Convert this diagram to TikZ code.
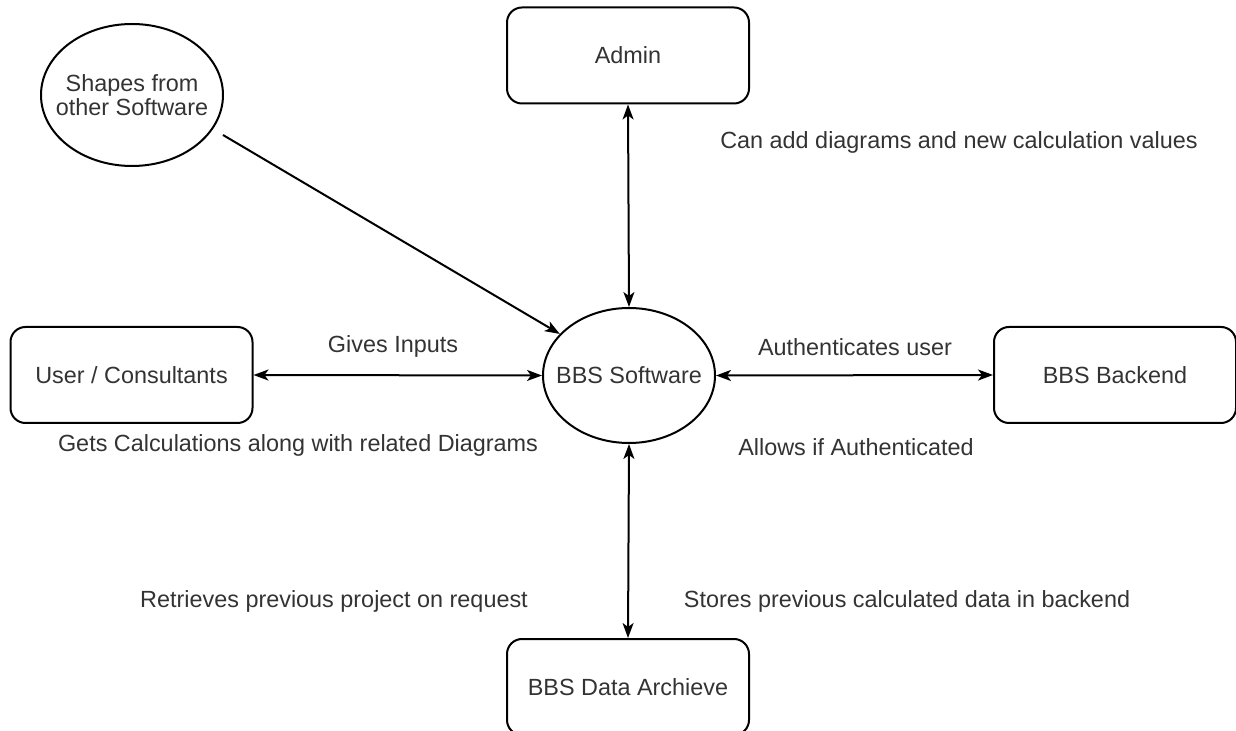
\documentclass[tikz,border=0pt]{standalone}
\usepackage{fontspec}
\setmainfont{Liberation Sans}
\usetikzlibrary{shapes.geometric,arrows.meta}
\definecolor{txt}{HTML}{333333}
\tikzset{
  box/.style={draw=black, line width=1pt, rounded corners=7.5pt, minimum width=121pt, minimum height=48pt, inner sep=0pt, text=txt, font=\fontsize{11.7}{14}\selectfont},
  oval/.style={draw=black, line width=1pt, ellipse, inner sep=0pt, text=txt, font=\fontsize{11.7}{12}\selectfont},
  lbl/.style={text=txt, inner sep=0pt, font=\fontsize{11.7}{14}\selectfont},
  conn/.style={line width=1pt, draw=black},
  arr/.tip={Stealth[length=7.5pt,width=5.5pt,inset=2pt]}
}
\begin{document}
\begin{tikzpicture}[x=0.5pt,y=-0.5pt]
\useasboundingbox (0,0) rectangle (1236,731);
\node[oval, minimum width=91pt, minimum height=71pt] (shapes) at (132,95) {\makebox[0pt]{\raisebox{-4.9pt}[0pt][0pt]{\begin{tabular}{@{}c@{}}Shapes from\\other Software\end{tabular}}}};
\node[box] (admin) at (628,55.5) {Admin};
\node[oval, minimum width=86pt, minimum height=67.5pt] (bbs) at (629,375.5) {\makebox[0pt]{BBS Software}};
\node[box] (user) at (131.5,375) {User / Consultants};
\node[box] (backend) at (1115,375) {BBS Backend};
\node[box] (arch) at (628,687) {BBS Data Archieve};
\coordinate (s1) at (223,135);
\draw[conn, -arr] (s1) -- (bbs.149);
\draw[conn, arr-arr] (admin.south) -- (bbs.north);
\draw[conn, arr-arr] (user.east) -- (bbs.west);
\draw[conn, arr-arr] (bbs.east) -- (backend.west);
\draw[conn, arr-arr] (bbs.south) -- (arch.north);
\node[lbl] (canadd) at (959,142) {Can add diagrams and new calculation values};
\node[lbl] (gives) at (393,346) {Gives Inputs};
\node[lbl] (gets) at (298,445) {Gets Calculations along with related Diagrams};
\node[lbl] (auth) at (855,347) {Authenticates user};
\node[lbl] (allows) at (856,447) {Allows if Authenticated};
\node[lbl] (retr) at (334,601) {Retrieves previous project on request};
\node[lbl] (stores) at (907,601) {Stores previous calculated data in backend};
\end{tikzpicture}
\end{document}
